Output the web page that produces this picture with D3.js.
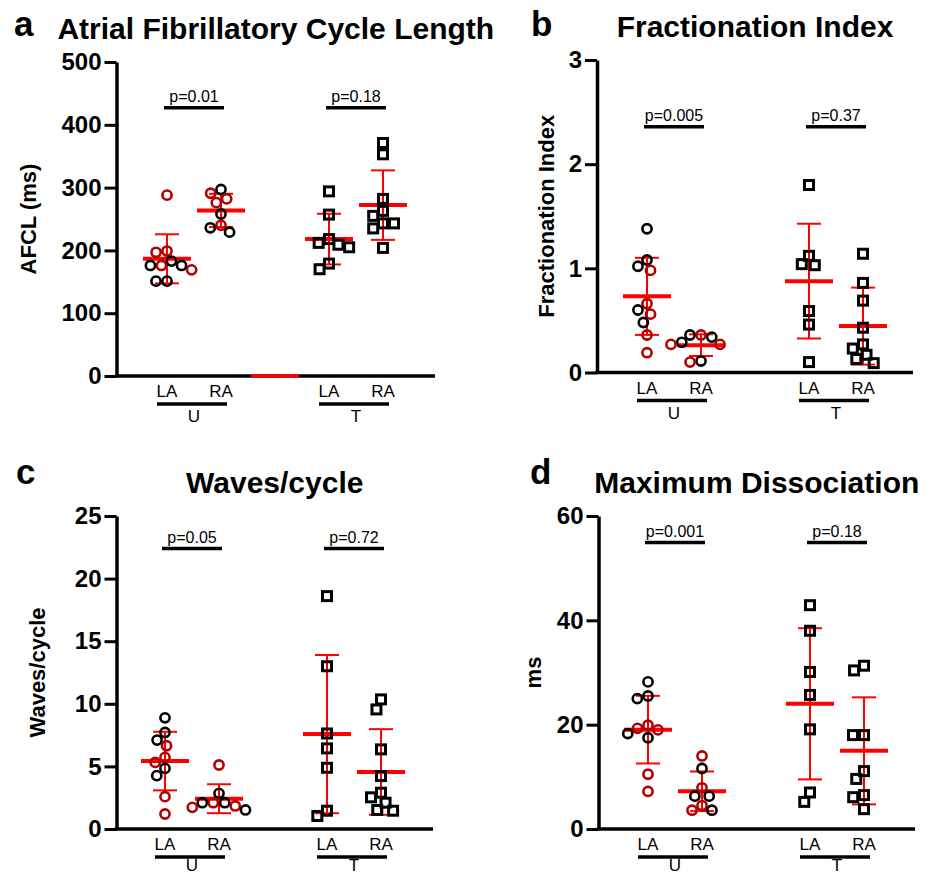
<!DOCTYPE html>
<html>
<head>
<meta charset="utf-8">
<script src="https://cdn.jsdelivr.net/npm/d3@7"></script>
<style>
  body { margin: 0; background: #fff; }
  svg { display: block; }
  text { font-family: "Liberation Sans", Arial, sans-serif; fill: #000; }
</style>
</head>
<body>
<svg width="933" height="876"></svg>
<script>
// columns of every panel (the "gap" column stays empty)
const groups = ["U-LA", "U-RA", "gap", "T-LA", "T-RA"]

// a - AFCL (ms)
const afclTicks = [0, 100, 200, 300, 400, 500]
const afclULARed = [288, 199, 197, 176, 169]
const afclULABlack = [183, 176, 176, 151, 151]
const afclURARed = [291, 282, 276, 240]
const afclURABlack = [297, 258, 236, 229]
const afclTLA = [294, 257, 218, 212, 209, 205, 179, 170]
const afclTRA = [371, 353, 282, 263, 255, 243, 243, 235, 204]
const afclGapMean = 0
const afclP = ["p=0.01", "p=0.18"]

// b - fractionation index
const fiTicks = [0, 1, 2, 3]
const fiULARed = [0.98, 0.66, 0.56, 0.36, 0.19]
const fiULABlack = [1.38, 1.08, 1.02, 0.60, 0.48]
const fiURARed = [0.36, 0.27, 0.27, 0.10]
const fiURABlack = [0.36, 0.34, 0.29, 0.11]
const fiTLA = [1.80, 1.12, 1.04, 1.03, 0.59, 0.46, 0.10]
const fiTRA = [1.14, 0.86, 0.69, 0.43, 0.27, 0.23, 0.17, 0.13, 0.09]
const fiP = ["p=0.005", "p=0.37"]

// c - waves/cycle
const wavesTicks = [0, 5, 10, 15, 20, 25]
const wavesULARed = [6.65, 5.72, 5.32, 2.58, 1.20]
const wavesULABlack = [8.88, 7.71, 7.10, 4.84, 4.26]
const wavesURARed = [5.11, 2.10, 1.84, 1.73]
const wavesURABlack = [2.85, 2.10, 2.10, 1.52]
const wavesTLA = [18.6, 13.0, 7.63, 6.44, 4.89, 1.46, 1.04]
const wavesTRA = [10.35, 9.55, 6.36, 4.23, 2.90, 2.53, 2.10, 1.52, 1.46]
const wavesP = ["p=0.05", "p=0.72"]

// d - maximum dissociation (ms)
const mdTicks = [0, 20, 40, 60]
const mdULARed = [19.9, 19.3, 19.0, 10.5, 7.2]
const mdULABlack = [28.2, 25.5, 25.0, 18.3, 17.5]
const mdURARed = [14.0, 7.9, 4.5, 3.6]
const mdURABlack = [11.6, 6.3, 6.3, 3.6]
const mdTLA = [42.9, 38.0, 30.1, 25.7, 19.1, 7.0, 5.2]
const mdTRA = [31.3, 30.4, 18.0, 18.0, 11.1, 9.6, 6.5, 6.1, 3.8]
const mdP = ["p=0.001", "p=0.18"]

const RED = "#ff0000", DARKRED = "#b30000"

function pts(red, black, shape) {
  return red.map(v => ({ v, col: DARKRED, shape }))
    .concat(black.map(v => ({ v, col: "#000", shape })))
}

const panels = [
  { letter: "a", letterX: 14, letterY: 36, title: "Atrial Fibrillatory Cycle Length", ylabel: "AFCL (ms)",
    domain: [0, 500], ticks: afclTicks, pvals: afclP, pLevel: 427, gapMean: afclGapMean,
    cols: { "U-LA": pts(afclULARed, afclULABlack, "c"), "U-RA": pts(afclURARed, afclURABlack, "c"),
            "T-LA": pts([], afclTLA, "s"), "T-RA": pts([], afclTRA, "s") },
    left: 116.5, right: 435, top: 62, bottom: 376, c0: 167, c1: 383, labelX: 28 },
  { letter: "b", letterX: 531, letterY: 36, title: "Fractionation Index", ylabel: "Fractionation Index",
    domain: [0, 3], ticks: fiTicks, pvals: fiP, pLevel: 2.36,
    cols: { "U-LA": pts(fiULARed, fiULABlack, "c"), "U-RA": pts(fiURARed, fiURABlack, "c"),
            "T-LA": pts([], fiTLA, "s"), "T-RA": pts([], fiTRA, "s") },
    left: 597, right: 913, top: 60, bottom: 372.5, c0: 647, c1: 863, labelX: 546 },
  { letter: "c", letterX: 16, letterY: 484, title: "Waves/cycle", ylabel: "Waves/cycle",
    domain: [0, 25], ticks: wavesTicks, pvals: wavesP, pLevel: 22.4,
    cols: { "U-LA": pts(wavesULARed, wavesULABlack, "c"), "U-RA": pts(wavesURARed, wavesURABlack, "c"),
            "T-LA": pts([], wavesTLA, "s"), "T-RA": pts([], wavesTRA, "s") },
    left: 116.5, right: 433, top: 516, bottom: 829, c0: 165, c1: 381, labelX: 37 },
  { letter: "d", letterX: 530, letterY: 484, title: "Maximum Dissociation", ylabel: "ms",
    domain: [0, 60], ticks: mdTicks, pvals: mdP, pLevel: 54.9,
    cols: { "U-LA": pts(mdULARed, mdULABlack, "c"), "U-RA": pts(mdURARed, mdURABlack, "c"),
            "T-LA": pts([], mdTLA, "s"), "T-RA": pts([], mdTRA, "s") },
    left: 598.5, right: 915, top: 516, bottom: 829, c0: 648, c1: 864, labelX: 533 }
]

const svg = d3.select("svg")

// simple beeswarm: spread points sideways when they would overlap
function swarm(list, y, d) {
  let placed = []
  list.slice().sort((a, b) => b.v - a.v).forEach(p => {
    p.y = y(p.v)
    let cands = [0]
    placed.forEach(q => {
      let dy = p.y - q.y
      if (Math.abs(dy) < d) {
        let w = Math.sqrt(d * d - dy * dy)
        cands.push(q.dx - w, q.dx + w)
      }
    })
    let ok = cands.filter(c => placed.every(q => Math.hypot(c - q.dx, p.y - q.y) >= d - 0.01))
    ok.sort((a, b) => Math.abs(a) - Math.abs(b) || a - b)
    p.dx = ok.length ? ok[0] : d3.max(cands)
    placed.push(p)
  })
  return placed
}

panels.forEach(p => {
  let g = svg.append("g")
  let y = d3.scaleLinear().domain(p.domain).range([p.bottom, p.top])
  let x = d3.scalePoint().domain(groups).range([p.c0, p.c1])
  let mid = (p.left + p.right) / 2

  // letter + title
  g.append("text").attr("x", p.letterX).attr("y", p.letterY)
    .style("font-size", "35px").style("font-weight", "bold").text(p.letter)
  g.append("text").attr("x", mid).attr("y", p.top - 23).attr("text-anchor", "middle")
    .style("font-size", "30px").style("font-weight", "bold").text(p.title)

  // y axis
  let yAxis = d3.axisLeft(y).tickValues(p.ticks).tickSize(12).tickSizeOuter(0).tickPadding(3)
    .tickFormat(d3.format("d"))
  let ya = g.append("g").attr("transform", `translate(${p.left},0)`).call(yAxis)
  ya.select(".domain").attr("stroke", "#000").attr("stroke-width", 3.5)
  ya.selectAll(".tick line").attr("stroke", "#000").attr("stroke-width", 3)
  ya.selectAll(".tick text").style("font-size", "24px").style("font-weight", "bold")
    .style("font-family", '"Liberation Sans", Arial, sans-serif')

  g.append("text")
    .attr("transform", `translate(${p.labelX},${(p.top + p.bottom) / 2}) rotate(-90)`)
    .attr("text-anchor", "middle").attr("dy", "0.35em")
    .style("font-size", "22px").style("font-weight", "bold").text(p.ylabel)

  // x axis line
  g.append("line").attr("x1", p.left - 1.75).attr("x2", p.right)
    .attr("y1", y(0)).attr("y2", y(0)).attr("stroke", "#000").attr("stroke-width", 3.5)

  if (p.gapMean !== undefined) {
    g.append("line").attr("x1", x("gap") - 24).attr("x2", x("gap") + 24)
      .attr("y1", y(p.gapMean)).attr("y2", y(p.gapMean)).attr("stroke", RED).attr("stroke-width", 3.5)
  }

  // mean +/- SD
  Object.entries(p.cols).forEach(([key, list]) => {
    let vals = list.map(d => d.v)
    let m = d3.mean(vals), sd = d3.deviation(vals)
    let cx = x(key)
    g.append("line").attr("x1", cx).attr("x2", cx).attr("y1", y(m - sd)).attr("y2", y(m + sd))
      .attr("stroke", RED).attr("stroke-width", 2)
    ;[m - sd, m + sd].forEach(v => {
      g.append("line").attr("x1", cx - 12).attr("x2", cx + 12).attr("y1", y(v)).attr("y2", y(v))
        .attr("stroke", RED).attr("stroke-width", 2)
    })
    g.append("line").attr("x1", cx - 24).attr("x2", cx + 24).attr("y1", y(m)).attr("y2", y(m))
      .attr("stroke", RED).attr("stroke-width", 4)
  })

  // points
  Object.entries(p.cols).forEach(([key, list]) => {
    let cx = x(key)
    swarm(list, y, 11).forEach(d => {
      if (d.shape === "c") {
        g.append("circle").attr("cx", cx + d.dx).attr("cy", d.y).attr("r", 4.6)
          .attr("fill", "none").attr("stroke", d.col).attr("stroke-width", 2.6)
      } else {
        g.append("rect").attr("x", cx + d.dx - 4.5).attr("y", d.y - 4.5)
          .attr("width", 9).attr("height", 9)
          .attr("fill", "none").attr("stroke", d.col).attr("stroke-width", 3)
      }
    })
  })

  // p-value brackets
  ;[["U-LA", "U-RA"], ["T-LA", "T-RA"]].forEach(([a, b], i) => {
    let cm = (x(a) + x(b)) / 2
    let py = y(p.pLevel)
    g.append("line").attr("x1", cm - 30).attr("x2", cm + 30).attr("y1", py).attr("y2", py)
      .attr("stroke", "#000").attr("stroke-width", 3.5)
    g.append("text").attr("x", cm).attr("y", py - 6).attr("text-anchor", "middle")
      .style("font-size", "16px").text(p.pvals[i])
  })

  // category labels under the axis
  let y0 = y(0)
  ;[["U-LA", "U-RA", "U"], ["T-LA", "T-RA", "T"]].forEach(([a, b, name]) => {
    g.append("text").attr("x", x(a)).attr("y", y0 + 21).attr("text-anchor", "middle")
      .style("font-size", "17px").text("LA")
    g.append("text").attr("x", x(b)).attr("y", y0 + 21).attr("text-anchor", "middle")
      .style("font-size", "17px").text("RA")
    let cm = (x(a) + x(b)) / 2 - 2
    g.append("line").attr("x1", cm - 35).attr("x2", cm + 35).attr("y1", y0 + 28).attr("y2", y0 + 28)
      .attr("stroke", "#000").attr("stroke-width", 3.5)
    g.append("text").attr("x", cm + 2).attr("y", Math.min(y0 + 46, 871)).attr("text-anchor", "middle")
      .style("font-size", "17px").text(name)
  })
})
</script>
</body>
</html>
